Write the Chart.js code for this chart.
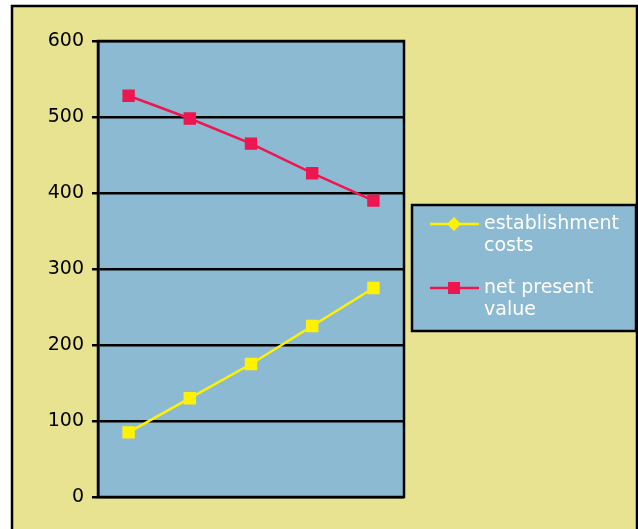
<!DOCTYPE html>
<html>
<head>
<meta charset="utf-8">
<script src="https://cdn.jsdelivr.net/npm/chart.js@4"></script>
<style>
  html, body { margin: 0; padding: 0; background: #ffffff; }
  #wrap { width: 638px; height: 529px; position: relative; }
</style>
</head>
<body>
<div id="wrap"><canvas id="c" width="638" height="529"></canvas></div>
<script>
// Five periods along the x axis (unlabelled)
const periods = ['1', '2', '3', '4', '5'];
const establishmentCosts = [85, 130, 175, 225, 275];
const netPresentValue = [528, 498, 465, 426, 390];
const seriesNames = [['establishment', 'costs'], ['net present', 'value']];
const yTicks = [0, 100, 200, 300, 400, 500, 600];

const FRAME_BG = '#E8E391';
const PLOT_BG = '#8DBAD3';
const YELLOW = '#FFF200';
const RED = '#EE1651';

// Yellow outer frame and blue plot area
const backdrop = {
  id: 'backdrop',
  beforeDraw(chart) {
    const ctx = chart.ctx;
    const a = chart.chartArea;
    ctx.save();
    ctx.fillStyle = FRAME_BG;
    ctx.fillRect(12, 6, 626, 530);
    ctx.strokeStyle = '#000';
    ctx.lineWidth = 2.5;
    ctx.strokeRect(12, 6, 625, 530);
    ctx.fillStyle = PLOT_BG;
    ctx.fillRect(a.left, a.top, a.right - a.left, a.bottom - a.top);
    ctx.restore();
  },
  afterDatasetsDraw(chart) {
    const ctx = chart.ctx;
    const a = chart.chartArea;
    ctx.save();
    ctx.strokeStyle = '#000';
    ctx.lineWidth = 2.5;
    ctx.strokeRect(a.left, a.top, a.right - a.left, a.bottom - a.top);
    ctx.restore();
  }
};

// Boxed legend to the right of the plot, two-line labels
const boxLegend = {
  id: 'boxLegend',
  afterDraw(chart) {
    const ctx = chart.ctx;
    const x = 412, y = 205, w = 224, h = 126;
    ctx.save();
    ctx.fillStyle = PLOT_BG;
    ctx.fillRect(x, y, w, h);
    ctx.strokeStyle = '#000';
    ctx.lineWidth = 2.5;
    ctx.strokeRect(x, y, w, h);
    const rows = [224, 288];
    chart.data.datasets.forEach((ds, i) => {
      const ly = rows[i];
      ctx.strokeStyle = ds.borderColor;
      ctx.lineWidth = 2.5;
      ctx.beginPath();
      ctx.moveTo(430, ly);
      ctx.lineTo(479, ly);
      ctx.stroke();
      ctx.fillStyle = ds.borderColor;
      if (i === 0) {
        ctx.beginPath();
        ctx.moveTo(454, ly - 7);
        ctx.lineTo(461, ly);
        ctx.lineTo(454, ly + 7);
        ctx.lineTo(447, ly);
        ctx.closePath();
        ctx.fill();
      } else {
        ctx.fillRect(448, ly - 6, 12, 12);
      }
      ctx.fillStyle = '#ffffff';
      ctx.font = '19px "DejaVu Sans"';
      ctx.textBaseline = 'middle';
      ctx.textAlign = 'left';
      seriesNames[i].forEach((t, k) => ctx.fillText(t, 484, ly + k * 22));
    });
    ctx.restore();
  }
};

new Chart(document.getElementById('c'), {
  type: 'line',
  data: {
    labels: periods,
    datasets: [
      {
        label: seriesNames[0].join(' '),
        data: establishmentCosts,
        borderColor: YELLOW,
        backgroundColor: YELLOW,
        borderWidth: 2.5,
        pointStyle: 'rect',
        pointRadius: 7,
        pointHoverRadius: 7,
        tension: 0
      },
      {
        label: seriesNames[1].join(' '),
        data: netPresentValue,
        borderColor: RED,
        backgroundColor: RED,
        borderWidth: 2.5,
        pointStyle: 'rect',
        pointRadius: 7,
        pointHoverRadius: 7,
        tension: 0
      }
    ]
  },
  options: {
    responsive: false,
    animation: false,
    events: [],
    layout: { padding: { left: 0, right: 234, top: 41, bottom: 32 } },
    plugins: { legend: { display: false }, tooltip: { enabled: false } },
    scales: {
      x: {
        display: false,
        offset: true
      },
      y: {
        min: 0,
        max: 600,
        afterFit(scale) { scale.width = 98; },
        afterBuildTicks(scale) { scale.ticks = yTicks.map(v => ({ value: v })); },
        grid: { color: '#000', lineWidth: 2.5, tickLength: 6, drawOnChartArea: true },
        border: { display: true, color: '#000', width: 2.5 },
        ticks: {
          color: '#000',
          padding: 8,
          font: { family: 'DejaVu Sans', size: 19 }
        }
      }
    }
  },
  plugins: [backdrop, boxLegend]
});
</script>
</body>
</html>
